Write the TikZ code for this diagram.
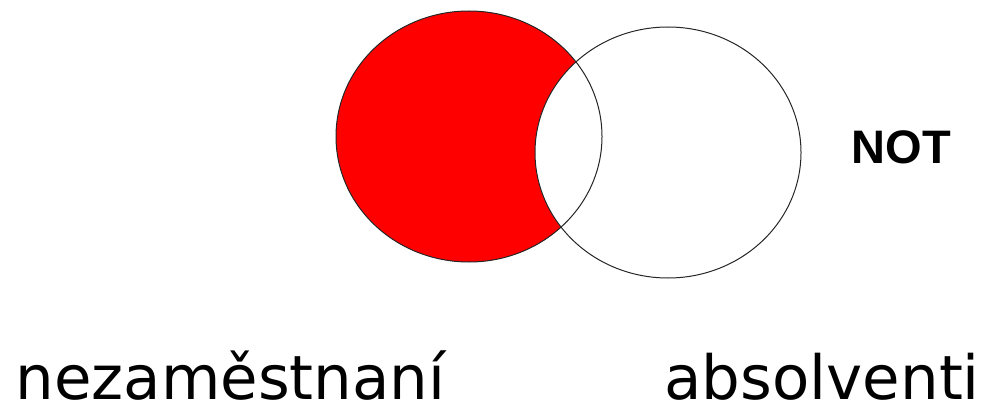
\documentclass[tikz,border=0pt]{standalone}
\usepackage{fontspec}
\setmainfont{DejaVu Sans}
\newfontfamily\notfont{Liberation Sans}
\usepackage{tikz}

\begin{document}
\begin{tikzpicture}[x=1pt,y=1pt,line width=1pt]
\path[use as bounding box] (0,0) rectangle (985,408);
\begin{scope}
  \fill[red] (469,271.5) ellipse (133 and 125.5);
  \clip (469,271.5) ellipse (133 and 125.5);
  \fill[white] (668,255.5) ellipse (133 and 125.5);
\end{scope}
\draw[black!85] (469,271.5) ellipse (133 and 125.5);
\draw[black!85] (668,255.5) ellipse (133 and 125.5);
\node[anchor=base west,inner sep=0pt,font=\notfont\bfseries\fontsize{47}{50}\selectfont] (op) at (851,245) {NOT};
\node[anchor=base west,inner sep=0pt,text depth=0pt,font=\fontsize{61}{70}\selectfont] (setA) at (15,9) {nezaměstnaní};
\node[anchor=base west,inner sep=0pt,text depth=0pt,font=\fontsize{61}{70}\selectfont] (setB) at (664,9) {absolventi};
\end{tikzpicture}
\end{document}
